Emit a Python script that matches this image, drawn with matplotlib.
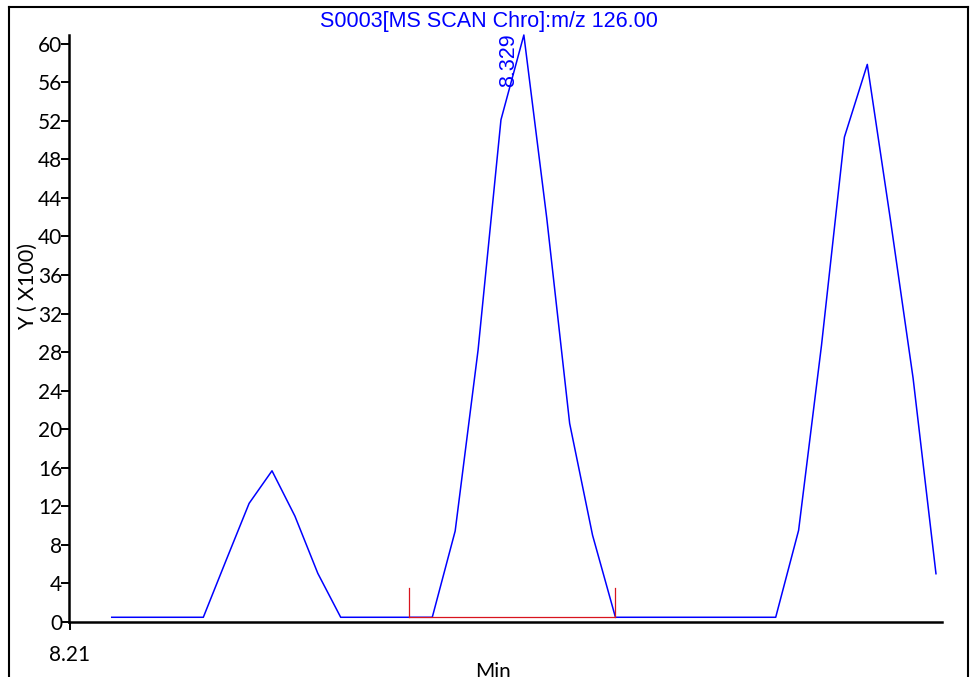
import matplotlib
matplotlib.use("Agg")
import matplotlib.pyplot as plt
from matplotlib.lines import Line2D

# Extracted ion chromatogram, m/z 126.00 (intensity in units of 100 counts)
scan_start = 8.221          # retention time of first scan (min)
scan_step = 0.006           # scan interval (min)
intensity = [0.48, 0.48, 0.48, 0.48, 0.48,
             6.42, 12.3, 15.68, 10.98, 5.04,
             0.48, 0.48, 0.48, 0.48, 0.48,
             9.43, 28.2, 52.1, 60.9, 41.9, 20.6, 9.0,
             0.48, 0.48, 0.48, 0.48, 0.48, 0.48, 0.48, 0.48,
             9.5, 28.7, 50.3, 57.85, 41.9, 25.3, 5.0]
times = [scan_start + i * scan_step for i in range(len(intensity))]

# Integrated peak: baseline start/end scans and apex
peak_start_idx = 13
peak_end_idx = 22
peak_apex_idx = 18
peak_label = "8.329"
baseline_level = 0.48
marker_height = 3.0

y_ticks = list(range(0, 61, 4))
x_tick_values = [8.21]
x_tick_labels = ["8.21"]
title_text = "S0003[MS SCAN Chro]:m/z 126.00"

W, H, DPI = 971, 677, 100
fig = plt.figure(figsize=(W / DPI, H / DPI), dpi=DPI)
fig.patch.set_facecolor("white")

ax = fig.add_axes([69 / W, 1 - 621.9 / H, (941.7 - 69) / W, (621.9 - 35) / H])
ax.set_xlim(8.2098, 8.4385)
ax.set_ylim(0, 60.9)

ax.plot(times, intensity, color="#0000ff", lw=1.1, clip_on=False, zorder=3)

# peak baseline and delimiters
t0, t1 = times[peak_start_idx], times[peak_end_idx]
red = "#d8141e"
ax.plot([t0, t1], [baseline_level, baseline_level], color=red, lw=0.9, zorder=4)
ax.plot([t0, t0], [baseline_level, baseline_level + marker_height], color=red, lw=0.9, zorder=4)
ax.plot([t1, t1], [baseline_level, baseline_level + marker_height], color=red, lw=0.9, zorder=4)

ax.annotate(peak_label, xy=(times[peak_apex_idx], intensity[peak_apex_idx]),
            xytext=(-15, 2), textcoords="offset pixels", rotation=90,
            ha="center", va="top", color="#0000ff", fontsize=15.5,
            family="Liberation Sans", annotation_clip=False)

for s in ("top", "right"):
    ax.spines[s].set_visible(False)
for s in ("left", "bottom"):
    ax.spines[s].set_linewidth(1.8)
    ax.spines[s].set_color("black")

ax.set_yticks(y_ticks)
ax.set_yticklabels([str(v) for v in y_ticks])
ax.set_xticks(x_tick_values)
ax.set_xticklabels(x_tick_labels)
ax.tick_params(axis="y", direction="out", length=5.5, width=1.4, pad=-0.5,
               labelsize=15, colors="black")
ax.tick_params(axis="x", direction="out", length=5.5, width=1.4, pad=11,
               labelsize=15, colors="black")
for lab in ax.get_xticklabels() + ax.get_yticklabels():
    lab.set_family("Lato")

fig.text(28 / W, 1 - 286 / H, "Y ( X100)", rotation=90, ha="center", va="center",
         fontsize=15.5, family="Lato")
fig.text(493 / W, 1 - 662 / H, "Min", ha="center", va="top", fontsize=15, family="Lato")

fig.text(489 / W, 1 - 22 / H, title_text, ha="center", va="center",
         color="#0000ff", fontsize=15.5, family="Liberation Sans")

# outer report frame
fl, fr, ft, fb = 9.3 / W, 968.3 / W, 1 - 6.7 / H, -0.1
for xs, ys in (([fl, fl], [fb, ft]), ([fl, fr], [ft, ft]), ([fr, fr], [ft, fb])):
    fig.add_artist(Line2D(xs, ys, transform=fig.transFigure, color="black", lw=1.5))

fig.savefig("out.png", dpi=DPI)
